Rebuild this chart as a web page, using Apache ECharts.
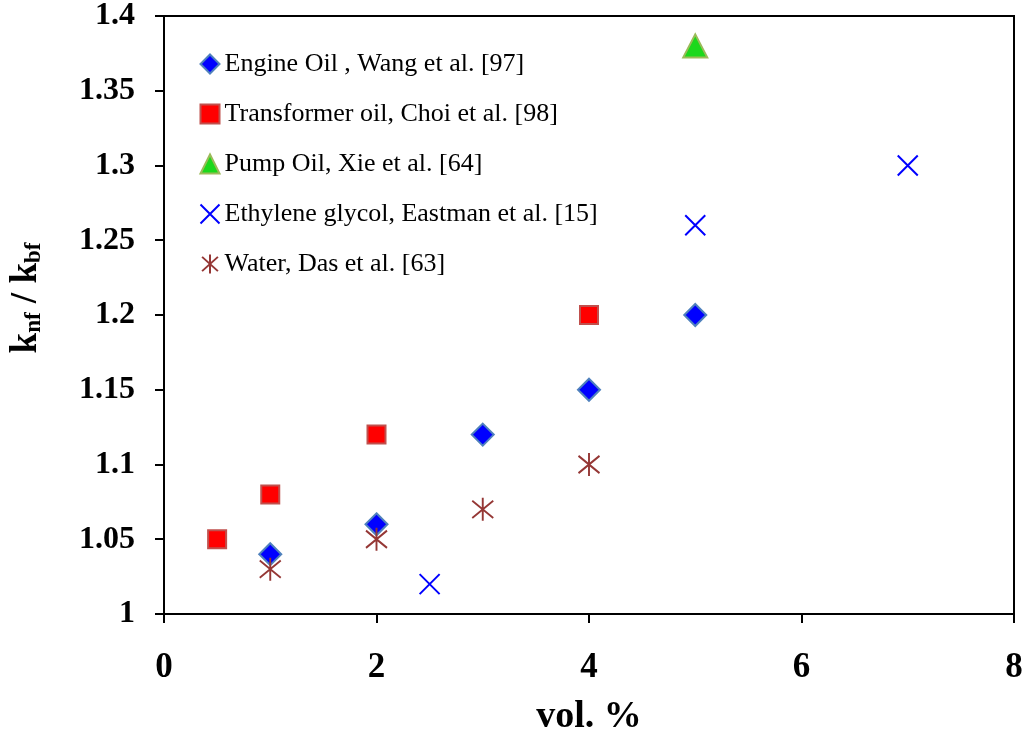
<!DOCTYPE html>
<html>
<head>
<meta charset="utf-8">
<script src="https://cdn.jsdelivr.net/npm/echarts@6/dist/echarts.min.js"></script>
<style>
  html, body { margin: 0; padding: 0; background: #fff; }
  #chart { width: 1028px; height: 733px; }
</style>
</head>
<body>
<div id="chart"></div>
<script>
// Thermal conductivity ratio k_nf / k_bf versus volume fraction, by base fluid
const seriesNames = [
  'Engine Oil , Wang et al. [97]',
  'Transformer oil, Choi et al. [98]',
  'Pump Oil, Xie et al. [64]',
  'Ethylene glycol, Eastman et al. [15]',
  'Water, Das et al. [63]'
];

// [vol. %, k_nf / k_bf]
const engineOil = [[1, 1.04], [2, 1.06], [3, 1.12], [4, 1.15], [5, 1.2]];
const transformerOil = [[0.5, 1.05], [1, 1.08], [2, 1.12], [4, 1.2]];
const pumpOil = [[5, 1.38]];
const ethyleneGlycol = [[2.5, 1.02], [5, 1.26], [7, 1.3]];
const water = [[1, 1.03], [2, 1.05], [3, 1.07], [4, 1.1]];

const xTicks = { min: 0, max: 8, interval: 2 };
const yTicks = { min: 1, max: 1.4, interval: 0.05 };

const SERIF = '"Liberation Serif", "DejaVu Serif", serif';

const crossPath = 'path://M0,0L20,20M20,0L0,20';
const starPath = 'path://M0,3L20,21M20,3L0,21M10,0L10,24';

const chart = echarts.init(document.getElementById('chart'), null, { renderer: 'canvas' });

chart.setOption({
  animation: false,
  backgroundColor: '#ffffff',
  grid: {
    left: 164, right: 14, top: 16, bottom: 119,
    outerBoundsMode: 'none',
    containLabel: false,
    show: true, borderColor: '#000', borderWidth: 2, backgroundColor: 'transparent'
  },
  legend: {
    orient: 'vertical',
    left: 193,
    top: 46,
    itemWidth: 19,
    itemHeight: 19,
    itemGap: 24,
    selectedMode: false,
    textStyle: { fontFamily: SERIF, fontSize: 26, color: '#000', lineHeight: 26 },
    data: seriesNames
  },
  xAxis: {
    type: 'value',
    min: xTicks.min, max: xTicks.max, interval: xTicks.interval,
    name: 'vol. %',
    nameLocation: 'middle',
    nameGap: 84,
    nameTextStyle: { fontFamily: SERIF, fontSize: 38, fontWeight: 'bold', color: '#000' },
    axisLine: { lineStyle: { color: '#000', width: 2 } },
    axisTick: { inside: false, length: 9, lineStyle: { color: '#000', width: 2 } },
    axisLabel: { margin: 36, fontFamily: SERIF, fontSize: 35, fontWeight: 'bold', color: '#000' },
    splitLine: { show: false }
  },
  yAxis: {
    type: 'value',
    min: yTicks.min, max: yTicks.max, interval: yTicks.interval,
    axisLine: { show: true, lineStyle: { color: '#000', width: 2 } },
    axisTick: { show: true, inside: false, length: 9, lineStyle: { color: '#000', width: 2 } },
    axisLabel: {
      margin: 29, fontFamily: SERIF, fontSize: 32, fontWeight: 'bold', color: '#000',
      formatter: v => String(+v.toFixed(2))
    },
    splitLine: { show: false }
  },
  graphic: [{
    type: 'text',
    x: 26,
    y: 298,
    rotation: Math.PI / 2,
    silent: true,
    style: {
      text: '{b|k}{s|nf}{b| / k}{s|bf}',
      align: 'center',
      verticalAlign: 'middle',
      rich: {
        b: { fontFamily: SERIF, fontSize: 37, fontWeight: 'bold', fill: '#000', lineHeight: 40 },
        s: { fontFamily: SERIF, fontSize: 23, fontWeight: 'bold', fill: '#000', lineHeight: 16, verticalAlign: 'bottom' }
      }
    }
  }],
  series: [
    {
      name: seriesNames[0], type: 'scatter', data: engineOil,
      symbol: 'diamond', symbolSize: 22,
      itemStyle: { color: '#0000ff', borderColor: '#4f81bd', borderWidth: 2, opacity: 1 },
      emphasis: { disabled: true }
    },
    {
      name: seriesNames[1], type: 'scatter', data: transformerOil,
      symbol: 'rect', symbolSize: 18,
      itemStyle: { color: '#ff0000', borderColor: '#c0504d', borderWidth: 2, opacity: 1 },
      emphasis: { disabled: true }
    },
    {
      name: seriesNames[2], type: 'scatter', data: pumpOil,
      symbol: 'triangle', symbolSize: [24, 23],
      itemStyle: { color: '#1cd81c', borderColor: '#9bbb59', borderWidth: 2, opacity: 1 },
      emphasis: { disabled: true }
    },
    {
      name: seriesNames[3], type: 'scatter', data: ethyleneGlycol,
      symbol: crossPath, symbolSize: 20,
      itemStyle: { color: 'none', borderColor: '#0000ff', borderWidth: 2, opacity: 1 },
      emphasis: { disabled: true }
    },
    {
      name: seriesNames[4], type: 'scatter', data: water,
      symbol: starPath, symbolSize: [21, 23],
      itemStyle: { color: 'none', borderColor: '#953735', borderWidth: 2, opacity: 1 },
      emphasis: { disabled: true }
    }
  ]
});
</script>
</body>
</html>
